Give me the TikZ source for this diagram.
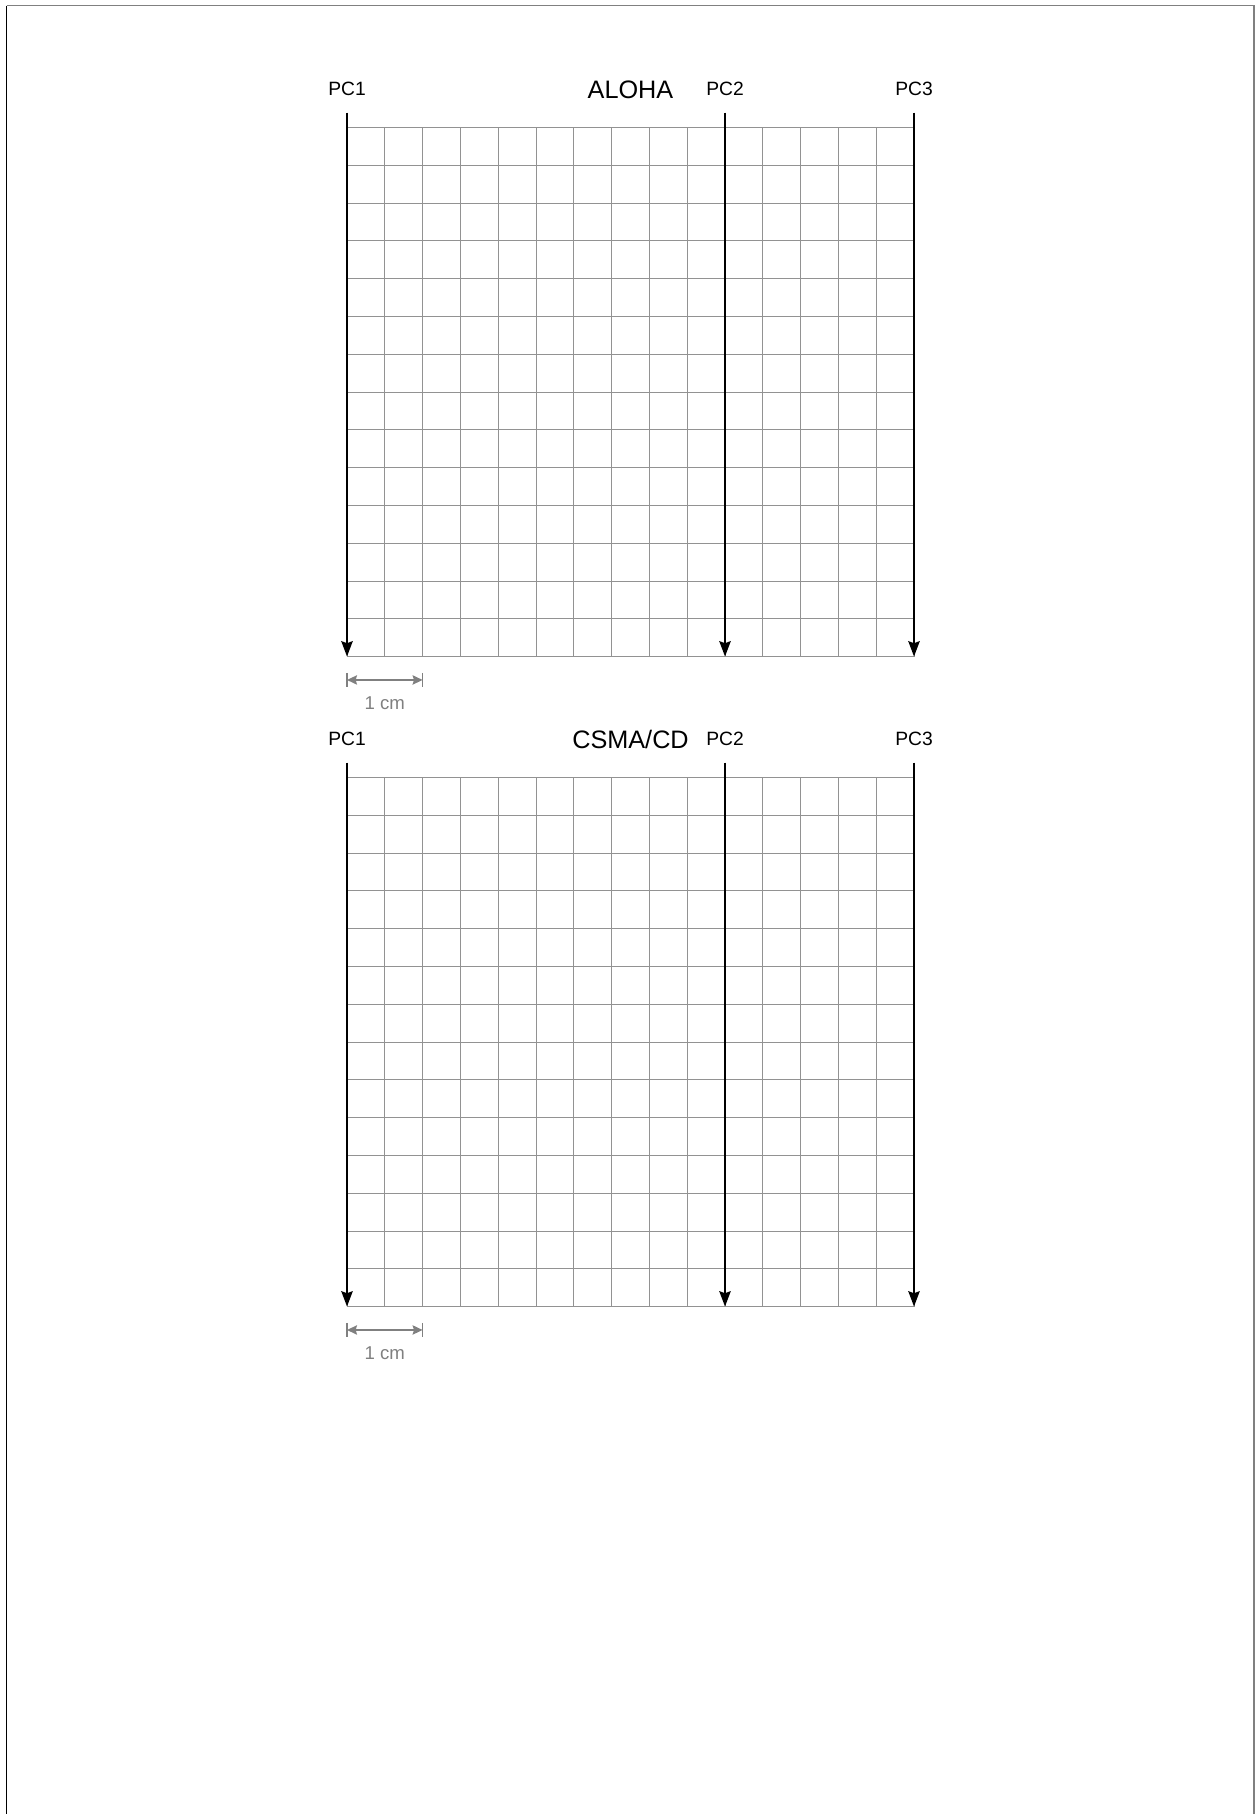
\documentclass[tikz,border=0pt]{standalone}
\usepackage{fontspec}
\setmainfont{Liberation Sans}
\usepackage{tikz}
\usetikzlibrary{positioning,arrows.meta,calc}
\usepackage{xcolor}
\definecolor{gridgray}{HTML}{929292}
\definecolor{scalegray}{HTML}{808080}

\begin{document}
\begin{tikzpicture}[
        gridLine/.style={draw=gridgray, line width=0.6pt},
        pcLine/.style={-{Stealth[length=11.5pt, width=8.5pt, inset=1.5pt]}, line width=1.7pt, draw=black},
        pcLabel/.style={font=\fontsize{14.5}{17}\selectfont, anchor=base, inner sep=0pt},
        titleLabel/.style={font=\fontsize{19}{22}\selectfont, anchor=base, inner sep=0pt},
        scaleBar/.style={{Stealth[length=7.5pt, width=7pt, inset=1pt]}-{Stealth[length=7.5pt, width=7pt, inset=1pt]}, line width=1.2pt, draw=scalegray},
        scaleTick/.style={line width=1.1pt, draw=scalegray},
        scaleLabel/.style={font=\fontsize{14}{16}\selectfont, text=scalegray, anchor=base, inner sep=0pt}
    ]
        % Page frame
        \useasboundingbox (0,0) rectangle (33.201,-47.989);
        \coordinate (pageTL) at (0.176,-0.15);
        \coordinate (pageTR) at (33.18,-0.15);
        \coordinate (pageBL) at (0.176,-47.989);
        \coordinate (pageBR) at (33.18,-47.989);
        \draw[scalegray, line width=1.1pt] (pageTL) -- (pageTR) -- (pageBR);
        \draw[black, line width=0.8pt] (pageTL) -- (pageBL);

        % Panel ALOHA
        \begin{scope}[shift={(9.18,-3.368)}]
            \draw[gridLine] (0,0) grid (15,-14);
            \node[titleLabel] (alohaTitle) at (7.5,0.77) {ALOHA};
            \node[pcLabel] (alohaPc1) at (0,0.84) {PC1};
            \node[pcLabel] (alohaPc2) at (10,0.84) {PC2};
            \node[pcLabel] (alohaPc3) at (15,0.84) {PC3};
            \coordinate (alohaTop1) at (0,0.386);
            \coordinate (alohaTop2) at (10,0.386);
            \coordinate (alohaTop3) at (15,0.386);
            \coordinate (alohaEnd1) at (0,-14);
            \coordinate (alohaEnd2) at (10,-14);
            \coordinate (alohaEnd3) at (15,-14);
            \draw[pcLine] (alohaTop1) -- (alohaEnd1);
            \draw[pcLine] (alohaTop2) -- (alohaEnd2);
            \draw[pcLine] (alohaTop3) -- (alohaEnd3);
            % scale
            \coordinate (alohaScaleL) at (0,-14.62);
            \coordinate (alohaScaleR) at (2,-14.62);
            \draw[scaleBar] (alohaScaleL) -- (alohaScaleR);
            \draw[scaleTick] (alohaScaleL) ++(0,0.185) -- ++(0,-0.37);
            \draw[scaleTick] (alohaScaleR) ++(0,0.185) -- ++(0,-0.37);
            \node[scaleLabel] (alohaScaleText) at (1,-15.40) {1 cm};
        \end{scope}

        % Panel CSMA/CD
        \begin{scope}[shift={(9.18,-20.564)}]
            \draw[gridLine] (0,0) grid (15,-14);
            \node[titleLabel] (csmaTitle) at (7.5,0.77) {CSMA/CD};
            \node[pcLabel] (csmaPc1) at (0,0.84) {PC1};
            \node[pcLabel] (csmaPc2) at (10,0.84) {PC2};
            \node[pcLabel] (csmaPc3) at (15,0.84) {PC3};
            \coordinate (csmaTop1) at (0,0.386);
            \coordinate (csmaTop2) at (10,0.386);
            \coordinate (csmaTop3) at (15,0.386);
            \coordinate (csmaEnd1) at (0,-14);
            \coordinate (csmaEnd2) at (10,-14);
            \coordinate (csmaEnd3) at (15,-14);
            \draw[pcLine] (csmaTop1) -- (csmaEnd1);
            \draw[pcLine] (csmaTop2) -- (csmaEnd2);
            \draw[pcLine] (csmaTop3) -- (csmaEnd3);
            % scale
            \coordinate (csmaScaleL) at (0,-14.62);
            \coordinate (csmaScaleR) at (2,-14.62);
            \draw[scaleBar] (csmaScaleL) -- (csmaScaleR);
            \draw[scaleTick] (csmaScaleL) ++(0,0.185) -- ++(0,-0.37);
            \draw[scaleTick] (csmaScaleR) ++(0,0.185) -- ++(0,-0.37);
            \node[scaleLabel] (csmaScaleText) at (1,-15.40) {1 cm};
        \end{scope}
    \end{tikzpicture}
\end{document}
